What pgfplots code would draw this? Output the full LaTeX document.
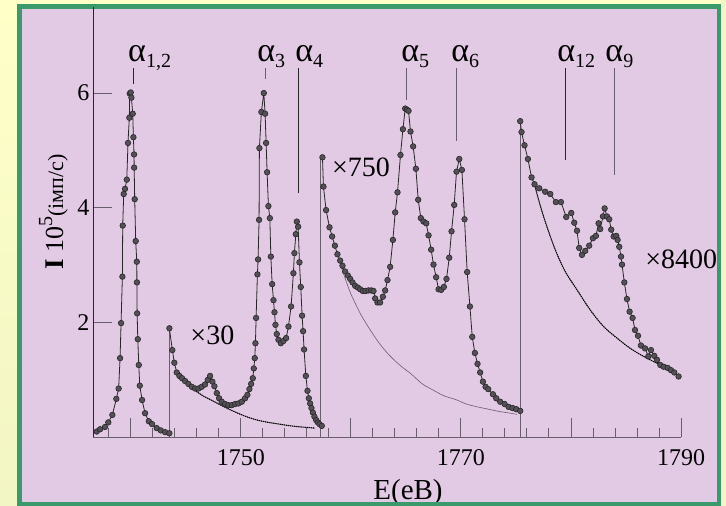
\documentclass[border=0pt]{standalone}
\usepackage{pgfplots}
\pgfplotsset{compat=1.18}
\usepackage{fontspec}
\setmainfont{Liberation Serif}
\definecolor{ytop}{RGB}{255,255,200}
\definecolor{ybot}{RGB}{242,246,196}
\definecolor{fgreen}{RGB}{58,154,108}
\definecolor{lav}{RGB}{226,201,228}
\definecolor{axgray}{RGB}{105,95,108}
\definecolor{mk}{RGB}{85,80,88}
\newcommand{\al}[1]{{\fontsize{34}{34}\selectfont α}{\fontsize{20}{20}\selectfont\raisebox{-6pt}{#1}}}
\begin{document}
\begin{tikzpicture}
\shade[top color=ytop, bottom color=ybot] (0pt,0pt) rectangle (726pt,506pt);
\fill[fgreen] (17pt,0pt) rectangle (720.7pt,502pt);
\fill[lav] (22pt,4pt) rectangle (716.7pt,497pt);
\begin{axis}[
  at={(93pt,68.7pt)}, anchor=south west,
  scale only axis, width=588pt, height=430.3pt,
  xmin=1736.57, xmax=1790, ymin=0, ymax=7.5,
  clip=false,
  axis x line=bottom, axis y line=left,
  x axis line style={-, draw=axgray, line width=1pt},
  y axis line style={-, draw=black!85, line width=0.8pt},
  xtick={1740,1750,1760,1770,1780,1790},
  xticklabels={,1750,,1770,,1790},
  minor xtick={1738,1740,...,1790},
  ytick={2,4,6},
  tick align=inside,
  major tick length=19pt, minor tick length=9pt,
  every tick/.style={draw=axgray, line width=0.9pt},
  tick label style={font=\fontsize{24}{24}\selectfont},
  xticklabel style={yshift=-9pt},
  /pgf/number format/assume math mode=true,
]
% segment jump lines
\addplot[axgray, line width=1pt] coordinates {(1743.51,0) (1743.51,1.90)};
\addplot[axgray, line width=1pt] coordinates {(1757.27,0) (1757.27,4.88)};
\addplot[axgray, line width=1pt] coordinates {(1775.39,0) (1775.39,5.51)};
% baselines
\addplot[black!80, line width=0.5pt, smooth] coordinates {(1744.18,1.13) (1745.0,0.97) (1745.7,0.84) (1746.5,0.73) (1747.5,0.63) (1748.5,0.53) (1749.5,0.44) (1750.5,0.36) (1751.5,0.30) (1752.5,0.26) (1753.5,0.23) (1754.5,0.20) (1755.5,0.18) (1756.75,0.16)};
\addplot[black, line width=1.1pt, densely dotted, smooth] coordinates {(1744.18,1.13) (1745.0,0.97) (1745.7,0.84) (1746.5,0.73) (1747.5,0.63) (1748.5,0.53) (1749.5,0.44) (1750.5,0.36) (1751.5,0.30) (1752.5,0.26) (1753.5,0.23) (1754.5,0.20) (1755.5,0.18) (1756.75,0.16)};
\addplot[axgray, line width=0.6pt, smooth] coordinates {(1758.9,3.10) (1759.5,2.76) (1760,2.50) (1760.85,2.16) (1761.5,1.95) (1762.5,1.66) (1763.5,1.43) (1764.5,1.25) (1765.5,1.10) (1766.5,0.93) (1767.5,0.82) (1768.5,0.72) (1769.5,0.66) (1770.5,0.58) (1771.5,0.53) (1772.5,0.49) (1773.5,0.45) (1774.5,0.42) (1775.1,0.40)};
\addplot[black!80, line width=0.5pt, smooth] coordinates {(1776.69,4.41) (1777.06,4.14) (1777.66,3.76) (1778.57,3.27) (1779.48,2.89) (1780.55,2.57) (1781.75,2.22) (1782.97,1.93) (1784.18,1.73) (1785.39,1.55) (1786.6,1.41) (1787.82,1.29) (1789.03,1.17) (1789.78,1.06)};
\addplot[black, line width=1.1pt, densely dotted, smooth] coordinates {(1776.69,4.41) (1777.06,4.14) (1777.66,3.76) (1778.57,3.27) (1779.48,2.89) (1780.55,2.57) (1781.75,2.22) (1782.97,1.93) (1784.18,1.73) (1785.39,1.55) (1786.6,1.41) (1787.82,1.29) (1789.03,1.17) (1789.78,1.06)};
% data
\pgfplotsset{dat/.style={black!85, line width=0.8pt, mark=*, mark size=2.8pt, mark options={fill=mk, draw=black!85, line width=0.6pt}}}
\addplot[dat] coordinates {
(1736.91,0.10) (1737.21,0.14) (1737.66,0.18) (1737.96,0.26) (1738.33,0.39) (1738.69,0.67) (1738.90,0.85) (1739.03,1.38) (1739.12,1.99) (1739.24,2.80) (1739.27,3.69) (1739.36,4.24) (1739.48,4.33) (1739.64,4.49) (1739.75,5.13) (1739.87,5.57) (1739.91,5.99) (1740.00,6.01) (1740.06,5.92) (1740.18,5.64) (1740.24,5.23) (1740.30,4.93) (1740.31,4.70) (1740.36,4.15) (1740.45,3.42) (1740.55,3.06) (1740.56,2.70) (1740.58,2.16) (1740.64,1.71) (1740.73,1.26) (1740.82,0.90) (1741.03,0.65) (1741.30,0.42) (1741.64,0.28) (1741.94,0.23) (1742.36,0.16) (1742.73,0.12) (1743.12,0.09) (1743.51,0.07)};
\addplot[dat] coordinates {
(1743.51,1.90) (1743.78,1.52) (1743.96,1.30) (1744.18,1.13) (1744.42,1.07) (1744.66,1.03) (1744.94,0.98) (1745.24,0.93) (1745.55,0.88) (1745.85,0.85) (1746.15,0.85) (1746.45,0.88) (1746.75,0.92) (1747.00,1.00) (1747.21,1.07) (1747.42,0.97) (1747.60,0.89) (1747.82,0.77) (1748.03,0.68) (1748.27,0.62) (1748.57,0.58) (1748.87,0.56) (1749.18,0.56) (1749.48,0.58) (1749.78,0.59) (1750.09,0.62) (1750.39,0.68) (1750.60,0.74) (1750.78,0.84) (1750.94,0.93) (1751.09,1.03) (1751.18,1.20) (1751.27,1.38) (1751.33,1.64) (1751.39,2.08) (1751.51,2.84) (1751.57,3.10) (1751.66,3.79) (1751.69,5.04) (1751.87,5.67) (1752.09,6.00) (1752.21,5.64) (1752.30,5.13) (1752.39,4.62) (1752.51,4.03) (1752.64,3.82) (1752.73,3.15) (1752.85,2.67) (1752.97,2.39) (1753.06,2.18) (1753.15,1.96) (1753.27,1.80) (1753.42,1.70) (1753.64,1.64) (1753.88,1.68) (1754.12,1.73) (1754.33,1.93) (1754.57,2.28) (1754.78,2.86) (1754.87,3.21) (1755.00,3.54) (1755.09,3.76) (1755.21,3.67) (1755.33,3.05) (1755.45,2.62) (1755.57,2.12) (1755.66,1.85) (1755.75,1.53) (1755.91,1.07) (1756.06,0.81) (1756.18,0.68) (1756.30,0.59) (1756.42,0.51) (1756.55,0.43) (1756.69,0.36) (1756.85,0.30) (1757.00,0.26) (1757.15,0.23) (1757.36,0.20)};
\addplot[dat] coordinates {
(1757.42,4.88) (1757.51,4.37) (1757.75,3.96) (1758.06,3.66) (1758.30,3.50) (1758.55,3.34) (1758.78,3.19) (1759.03,3.08) (1759.24,2.99) (1759.48,2.89) (1759.73,2.82) (1759.94,2.76) (1760.15,2.70) (1760.39,2.64) (1760.64,2.61) (1760.85,2.58) (1761.09,2.55) (1761.33,2.55) (1761.60,2.56) (1761.85,2.56) (1762.06,2.55) (1762.21,2.42) (1762.42,2.35) (1762.66,2.35) (1762.91,2.45) (1763.12,2.56) (1763.33,2.74) (1763.57,2.97) (1763.82,3.44) (1764.03,3.92) (1764.24,4.27) (1764.51,4.92) (1764.73,5.37) (1764.94,5.73) (1765.09,5.71) (1765.24,5.69) (1765.42,5.33) (1765.66,5.07) (1765.91,4.68) (1766.12,4.14) (1766.36,3.82) (1766.60,3.76) (1766.85,3.73) (1767.06,3.52) (1767.30,3.27) (1767.51,3.01) (1767.75,2.79) (1767.97,2.58) (1768.21,2.57) (1768.45,2.62) (1768.69,2.76) (1768.94,3.13) (1769.15,3.59) (1769.39,4.05) (1769.60,4.63) (1769.85,4.85) (1770.09,4.66) (1770.33,3.80) (1770.57,2.88) (1770.82,2.28) (1771.03,1.75) (1771.27,1.47) (1771.51,1.28) (1771.75,1.13) (1772.00,0.97) (1772.24,0.88) (1772.48,0.84) (1772.91,0.75) (1773.21,0.68) (1773.57,0.62) (1773.97,0.58) (1774.33,0.53) (1774.69,0.51) (1775.03,0.49) (1775.39,0.46)};
\addplot[dat] coordinates {
(1775.39,5.51) (1775.51,5.32) (1775.78,5.09) (1776.09,4.85) (1776.42,4.53) (1776.69,4.41) (1777.12,4.34) (1777.66,4.28) (1778.12,4.24) (1778.63,4.10) (1779.09,4.10) (1779.57,3.84) (1780.03,3.91) (1780.30,3.74) (1780.55,3.60) (1780.75,3.30) (1781.00,3.18) (1781.30,3.25) (1781.66,3.34) (1782.00,3.47) (1782.27,3.51) (1782.51,3.73) (1782.66,3.63) (1782.91,3.85) (1783.06,3.99) (1783.27,3.85) (1783.48,3.80) (1783.66,3.62) (1783.88,3.50) (1784.12,3.51) (1784.24,3.44) (1784.39,3.32) (1784.55,3.15) (1784.64,3.01) (1784.85,2.70) (1785.09,2.41) (1785.33,2.19) (1785.60,2.08) (1785.82,1.87) (1786.09,1.77) (1786.36,1.60) (1786.73,1.55) (1787.03,1.41) (1787.27,1.52) (1787.57,1.42) (1787.82,1.35) (1788.12,1.26) (1788.42,1.23) (1788.79,1.21) (1789.09,1.17) (1789.39,1.13) (1789.78,1.06)};
% alpha marker lines
\draw[black!85, line width=0.9pt] (axis cs:1740.23,6.44) -- (axis cs:1740.23,6.15);
\draw[axgray, line width=1pt] (axis cs:1752.20,6.44) -- (axis cs:1752.20,6.24);
\draw[black!85, line width=0.9pt] (axis cs:1755.24,6.44) -- (axis cs:1755.24,4.26);
\draw[axgray, line width=1pt] (axis cs:1765.03,6.44) -- (axis cs:1765.03,5.88);
\draw[axgray, line width=1pt] (axis cs:1769.57,6.44) -- (axis cs:1769.57,5.17);
\draw[black!85, line width=0.9pt] (axis cs:1779.50,6.44) -- (axis cs:1779.50,4.84);
\draw[axgray, line width=1pt] (axis cs:1783.94,6.44) -- (axis cs:1783.94,4.58);
% alpha labels
\node[anchor=base west, inner sep=0] at (axis cs:1739.75,6.55) {\al{1,2}};
\node[anchor=base west, inner sep=0] at (axis cs:1751.48,6.55) {\al{3}};
\node[anchor=base west, inner sep=0] at (axis cs:1754.94,6.55) {\al{4}};
\node[anchor=base west, inner sep=0] at (axis cs:1764.57,6.55) {\al{5}};
\node[anchor=base west, inner sep=0] at (axis cs:1769.12,6.55) {\al{6}};
\node[anchor=base west, inner sep=0] at (axis cs:1778.75,6.55) {\al{12}};
\node[anchor=base west, inner sep=0] at (axis cs:1783.12,6.55) {\al{9}};
% multipliers
\node[anchor=base west, inner sep=0, font=\fontsize{28}{28}\selectfont] at (axis cs:1745.41,1.61) {×30};
\node[anchor=base west, inner sep=0, font=\fontsize{28}{28}\selectfont] at (axis cs:1758.27,4.55) {×750};
\node[anchor=base west, inner sep=0, font=\fontsize{28}{28}\selectfont] at (axis cs:1786.75,2.95) {×8400};
\end{axis}
% y label
\node[rotate=90, anchor=base, inner sep=0] at (63pt,294pt) {{\fontsize{27}{27}\selectfont\bfseries I}\hspace{6pt}{\fontsize{26}{26}\selectfont 10}{\fontsize{20}{20}\selectfont\raisebox{11pt}{5}}{\fontsize{22}{22}\selectfont(імп/с)}};
% x label
\node[anchor=base, inner sep=0, font=\fontsize{29}{29}\selectfont] at (408pt,6pt) {E(eB)};
\fill[fgreen] (17pt,0pt) rectangle (720.7pt,4pt);
\fill[ybot] (720.7pt,0pt) rectangle (726pt,506pt);
\pgfresetboundingbox
\useasboundingbox (0pt,0pt) rectangle (726pt,506pt);
\end{tikzpicture}
\end{document}
